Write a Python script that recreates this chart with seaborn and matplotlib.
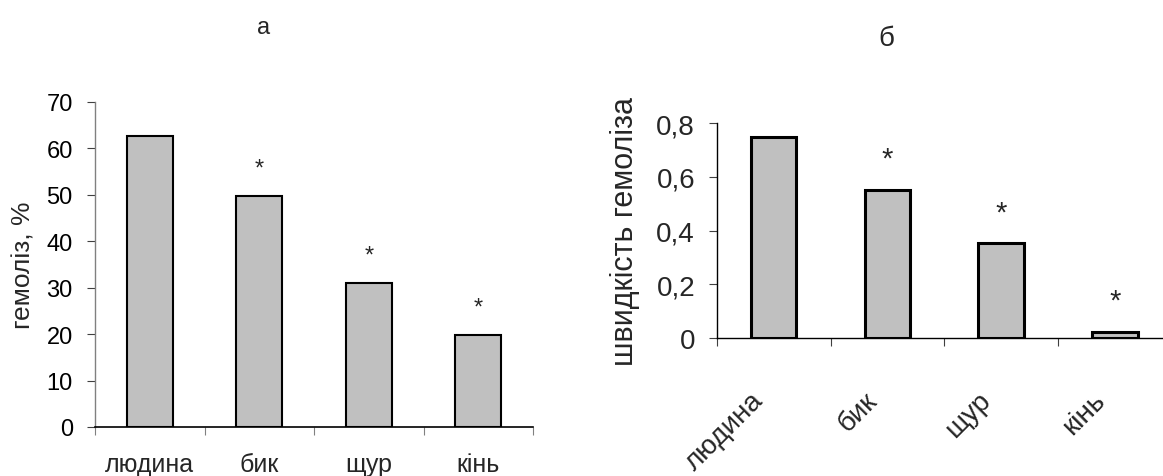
import matplotlib
matplotlib.use("Agg")
import matplotlib.pyplot as plt
import seaborn as sns
import pandas as pd

# ---- data ----
categories = ["людина", "бик", "щур", "кінь"]
hemolysis_pct = [62.7, 49.8, 30.9, 19.8]          # panel а
hemolysis_rate = [0.75, 0.551, 0.353, 0.023]      # panel б
significant = [False, True, True, True]
left_yticks = [0, 10, 20, 30, 40, 50, 60, 70]
right_yticks = [0, 0.2, 0.4, 0.6, 0.8]
right_yticklabels = ["0", "0,2", "0,4", "0,6", "0,8"]
left_ylabel = "гемоліз, %"
right_ylabel = "швидкість гемоліза"
panel_titles = ["а", "б"]

sns.set_theme(style="white")
plt.rcParams["font.family"] = ["Liberation Sans", "DejaVu Sans"]

W, H = 1163, 477
fig = plt.figure(figsize=(W / 100, H / 100), dpi=100)
axL = fig.add_axes([95 / W, 49 / H, 438 / W, 325.3 / H])
axR = fig.add_axes([716.7 / W, 138 / H, 455.3 / W, 214.7 / H])

BAR = "#C0C0C0"


def bars(ax, vals, width, lw):
    df = pd.DataFrame({"cat": categories, "val": vals})
    sns.barplot(data=df, x="cat", y="val", color=BAR, saturation=1,
                edgecolor="black", linewidth=lw, width=width, ax=ax)
    ax.set_xlim(-0.5, 3.5)
    for s in ("top", "right"):
        ax.spines[s].set_visible(False)
    ax.set_xlabel("")


# ---- panel а ----
bars(axL, hemolysis_pct, 0.42, 1.5)
axL.set_ylim(0, 70)
axL.set_yticks(left_yticks)
axL.set_yticklabels([str(t) for t in left_yticks], fontsize=17)
axL.spines["left"].set_color("#808080")
axL.spines["left"].set_linewidth(1.0)
axL.spines["bottom"].set_color("black")
axL.spines["bottom"].set_linewidth(1.2)
axL.set_xticks([-0.5, 0.5, 1.5, 2.5, 3.5])
axL.set_xticklabels([])
axL.set_xticks(range(len(categories)), minor=True)
axL.set_xticklabels(categories, minor=True, fontsize=18)
axL.tick_params(axis="y", left=True, direction="out", length=6, width=0.8,
                color="#404040", pad=10, labelcolor="black")
axL.tick_params(axis="x", which="major", bottom=True, direction="out",
                length=6, width=0.8, color="#808080")
axL.tick_params(axis="x", which="minor", bottom=True, length=0, pad=18)
axL.set_ylabel(left_ylabel, fontsize=19, va="center")
axL.yaxis.set_label_coords((23 - 95) / 438, 0.5)
for i, (v, s) in enumerate(zip(hemolysis_pct, significant)):
    if s:
        axL.annotate("*", xy=(i, v), xytext=(0, 15.4), textcoords="offset points",
                     ha="center", va="baseline", fontsize=17)

# ---- panel б ----
bars(axR, hemolysis_rate, 0.40, 2.2)
axR.set_ylim(0, 0.8)
axR.set_yticks(right_yticks)
axR.set_yticklabels(right_yticklabels, fontsize=20)
for s in ("left", "bottom"):
    axR.spines[s].set_color("black")
    axR.spines[s].set_linewidth(1.0)
axR.set_xticks([-0.5, 0.5, 1.5, 2.5, 3.5])
axR.set_xticklabels([])
axR.set_xticks([i - 0.123 for i in range(len(categories))], minor=True)
axR.set_xticklabels(categories, minor=True, fontsize=20, rotation=45,
                    ha="right", va="center", rotation_mode="anchor")
axR.tick_params(axis="y", left=True, direction="out", length=6, width=0.8,
                color="#404040", pad=9.6)
axR.tick_params(axis="x", which="major", bottom=True, direction="out",
                length=6, width=0.8, color="#404040")
axR.tick_params(axis="x", which="minor", bottom=True, length=0, pad=41.8)
axR.set_ylabel(right_ylabel, fontsize=22, va="center")
axR.yaxis.set_label_coords((625 - 716.7) / 455.3, 0.5)
for i, (v, s) in enumerate(zip(hemolysis_rate, significant)):
    if s:
        axR.annotate("*", xy=(i, v), xytext=(0, 16.7), textcoords="offset points",
                     ha="center", va="baseline", fontsize=21)

# ---- panel titles ----
fig.text(264 / W, 1 - 28 / H, panel_titles[0], ha="center", va="center", fontsize=17)
fig.text(886 / W, 1 - 39 / H, panel_titles[1], ha="center", va="center", fontsize=20)

fig.savefig("out.png", dpi=100)
